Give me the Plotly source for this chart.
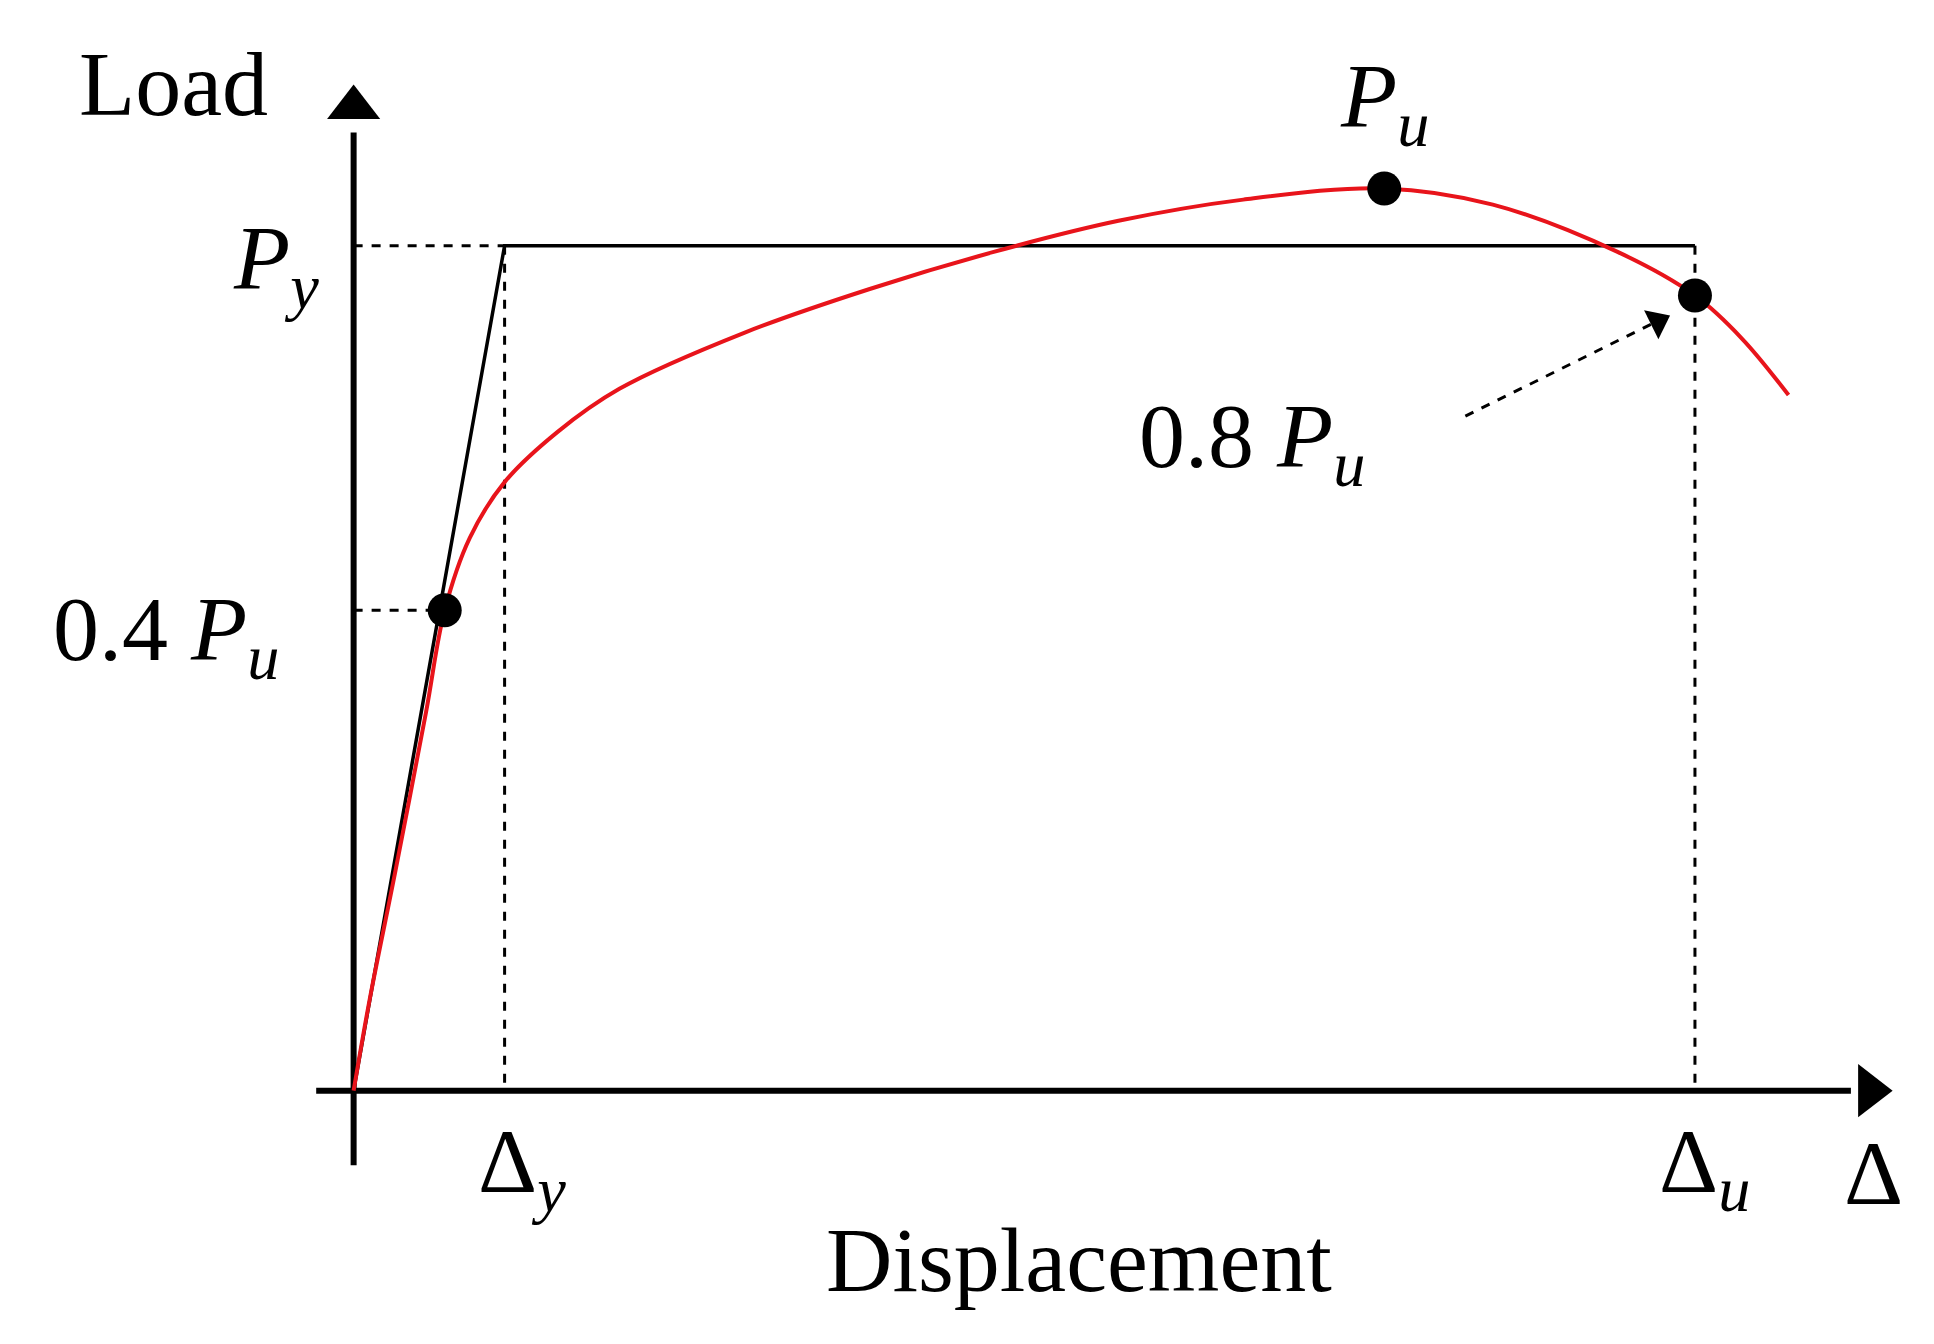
import plotly.graph_objects as go

# all coordinates: displacement / load in drawing units, origin at the axes corner
curve_x = [0, 13, 33, 58, 73, 93, 121, 163, 213, 313, 413, 513, 613, 713, 826, 913, 1013, 1075, 1113, 1150]
curve_y = [0, 74, 174, 304, 386, 444, 489, 529, 564, 609, 644, 674, 699, 716, 725, 712, 674, 639, 604, 559]

dy, du = 121, 1075        # yield / ultimate displacement
py = 679                  # yield load
p04 = (73, 386)           # 0.4 Pu point
pu = (826, 725)           # peak load point
p08 = (1075, 639)         # 0.8 Pu point

FONT = "Liberation Serif"
fig = go.Figure()

# axes
fig.add_trace(go.Scatter(x=[0, 0], y=[-60, 770], mode="lines", line=dict(color="black", width=6)))
fig.add_trace(go.Scatter(x=[0], y=[790], mode="markers",
                         marker=dict(symbol="triangle-up", size=46, color="black")))
fig.add_trace(go.Scatter(x=[-30, 1200], y=[0, 0], mode="lines", line=dict(color="black", width=6)))
fig.add_trace(go.Scatter(x=[1215], y=[0], mode="markers",
                         marker=dict(symbol="triangle-right", size=46, color="black")))

# dashed guides
dash = dict(color="black", width=3, dash="dash")
for xs, ys in [([0, dy], [py, py]), ([dy, dy], [py, 0]), ([du, du], [py, 0]),
               ([0, p04[0]], [p04[1], p04[1]])]:
    fig.add_trace(go.Scatter(x=xs, y=ys, mode="lines", line=dash))

# idealised bilinear
fig.add_trace(go.Scatter(x=[0, dy, du], y=[0, py, py], mode="lines",
                         line=dict(color="black", width=3.5)))

# measured curve
fig.add_trace(go.Scatter(x=curve_x, y=curve_y, mode="lines",
                         line=dict(color="#e8141b", width=4, shape="spline")))

# key points
fig.add_trace(go.Scatter(x=[p04[0], pu[0], p08[0]], y=[p04[1], pu[1], p08[1]], mode="markers",
                         marker=dict(size=34, color="black")))

# dashed pointer to 0.8 Pu
fig.add_trace(go.Scatter(x=[891, 1040], y=[542, 616], mode="lines", line=dash))
fig.add_trace(go.Scatter(x=[1045], y=[618], mode="markers",
                         marker=dict(symbol="triangle-up", size=28, color="black", angle=63.7)))

labels = [
    ("Load", -144, 809),
    ("<i>P</i><sub><i>u</i></sub>", 826, 794),
    ("<i>P</i><sub><i>y</i></sub>", -62, 664),
    ("0.4 <i>P</i><sub><i>u</i></sub>", -150, 366),
    ("0.8 <i>P</i><sub><i>u</i></sub>", 720, 521),
    ("Δ<sub><i>y</i></sub>", 135, -62),
    ("Δ<sub><i>u</i></sub>", 1083, -62),
    ("Δ", 1218, -66),
    ("Displacement", 581, -136),
]
for txt, x, y in labels:
    fig.add_annotation(x=x, y=y, text=txt, showarrow=False,
                       font=dict(family=FONT, size=92, color="black"))

fig.update_layout(
    width=1934, height=1344, showlegend=False,
    margin=dict(l=0, r=0, t=0, b=0),
    paper_bgcolor="white", plot_bgcolor="white",
    xaxis=dict(range=[-277, 1273], visible=False),
    yaxis=dict(range=[-210, 870], visible=False),
)

fig.write_html("out.html")
